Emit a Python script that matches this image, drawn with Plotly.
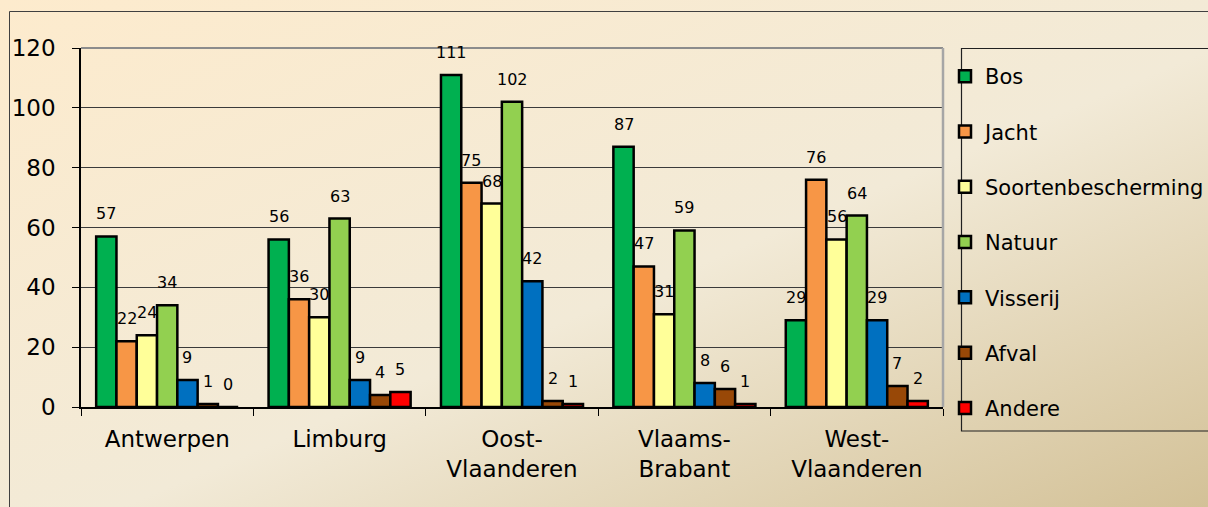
import base64
import plotly.graph_objects as go

categories = ["Antwerpen", "Limburg", "Oost-<br>Vlaanderen", "Vlaams-<br>Brabant", "West-<br>Vlaanderen"]
series_names = ["Bos", "Jacht", "Soortenbescherming", "Natuur", "Visserij", "Afval", "Andere"]
bos = [57, 56, 111, 87, 29]
jacht = [22, 36, 75, 47, 76]
soorten = [24, 30, 68, 31, 56]
natuur = [34, 63, 102, 59, 64]
visserij = [9, 9, 42, 8, 29]
afval = [1, 4, 2, 6, 7]
andere = [0, 5, 1, 1, 2]
series_values = [bos, jacht, soorten, natuur, visserij, afval, andere]
colors = ["#00B050", "#F79646", "#FFFF99", "#92D050", "#0070C0", "#984807", "#FF0000"]
y_ticks = [0, 20, 40, 60, 80, 100, 120]

W, H = 1208, 507
ML, MR, MT, MB = 81, W - 943, 48, H - 407
PW, PH = W - ML - MR, H - MT - MB
BARGAP = 0.176

svg = f'''<svg xmlns="http://www.w3.org/2000/svg" width="{W}" height="{H}" preserveAspectRatio="none">
<defs><linearGradient id="g" x1="0" y1="0" x2="1" y2="1">
<stop offset="0" stop-color="#FDEBCD"/>
<stop offset="0.55" stop-color="#F2EAD7"/>
<stop offset="1" stop-color="#D3C197"/>
</linearGradient></defs>
<rect width="{W}" height="{H}" fill="url(#g)"/></svg>'''
bg_uri = "data:image/svg+xml;base64," + base64.b64encode(svg.encode()).decode()

fig = go.Figure()
for i, (name, vals, col) in enumerate(zip(series_names, series_values, colors)):
    fig.add_trace(go.Bar(
        name=name, x=categories, y=vals, legendgroup=name,
        marker=dict(color=col, line=dict(color="black", width=2.5)),
    ))

cat_w = PW / len(categories)
bar_w = cat_w * (1 - BARGAP) / len(series_names)
annotations = []
for i, vals in enumerate(series_values):
    for j, v in enumerate(vals):
        annotations.append(dict(
            x=categories[j], y=v, xref="x", yref="y", text=str(v), showarrow=False,
            xshift=(i - (len(series_names) - 1) / 2) * bar_w, yanchor="bottom", yshift=11,
            font=dict(family="DejaVu Sans", size=16, color="black"),
        ))

def px_x(p):
    return (p - ML) / PW

def px_y(p):
    return 1 - (p - MT) / PH

shapes = [
    dict(type="rect", xref="paper", yref="paper", x0=px_x(9.5), y0=px_y(520), x1=px_x(1220), y1=px_y(11.5),
         line=dict(color="#404040", width=1), layer="above"),
    dict(type="rect", xref="paper", yref="paper", x0=px_x(961.5), y0=px_y(431), x1=px_x(1220), y1=px_y(48.5),
         line=dict(color="#202020", width=1.2), layer="above"),
    dict(type="line", xref="paper", yref="paper", x0=0, y0=1, x1=1, y1=1, line=dict(color="#8C8C8C", width=2)),
    dict(type="line", xref="paper", yref="paper", x0=1, y0=0, x1=1, y1=1, line=dict(color="#A6A6A6", width=2.5)),
]

fig.update_layout(
    width=W, height=H, autosize=False,
    margin=dict(l=ML, r=MR, t=MT, b=MB, autoexpand=False),
    paper_bgcolor="rgba(0,0,0,0)", plot_bgcolor="rgba(0,0,0,0)",
    barmode="group", bargap=BARGAP, bargroupgap=0,
    font=dict(family="DejaVu Sans", color="black"),
    images=[dict(source=bg_uri, xref="paper", yref="paper", x=-ML / PW, y=1 + MT / PH,
                 sizex=W / PW, sizey=H / PH, sizing="stretch", xanchor="left", yanchor="top",
                 layer="below")],
    legend=dict(x=px_x(945), y=px_y(56), xanchor="left", yanchor="top", maxheight=470,
                bgcolor="rgba(0,0,0,0)", borderwidth=0, traceorder="grouped",
                tracegroupgap=25, font=dict(family="DejaVu Sans", size=21, color="black")),
    annotations=annotations,
    shapes=shapes,
    showlegend=True,
)
fig.update_xaxes(showline=True, linecolor="black", linewidth=1.5, ticks="outside", tickson="boundaries",
                 ticklen=7, tickcolor="black", tickfont=dict(size=23), showgrid=False, ticklabelstandoff=11)
fig.update_yaxes(range=[0, 120], tickvals=y_ticks, showline=True, linecolor="black", linewidth=1.5,
                 ticks="outside", ticklen=7, tickcolor="black", tickfont=dict(size=23),
                 showgrid=True, gridcolor="#3A3A3A", gridwidth=1, zeroline=False, ticklabelstandoff=12)

fig.write_html("out.html", config=dict(displayModeBar=False, responsive=False),
               post_script="document.body.style.margin='0';document.body.style.overflow='hidden';")
